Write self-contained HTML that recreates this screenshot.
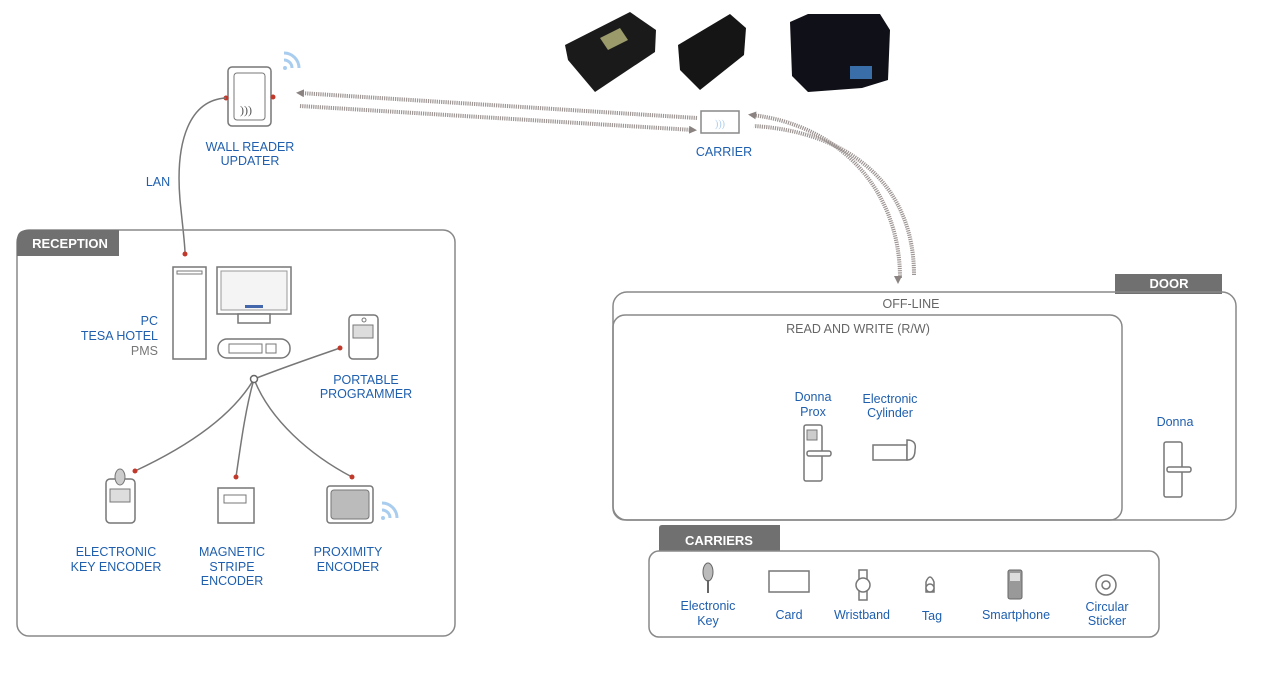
<!DOCTYPE html>
<html><head><meta charset="utf-8"><style>
html,body{margin:0;padding:0;background:#fff;width:1274px;height:690px;overflow:hidden}
svg{display:block}
.t{font-family:"Liberation Sans Narrow","Liberation Sans",sans-serif;font-size:12.5px;fill:#1f5fae;text-anchor:middle}
.g{fill:#666}
.w{fill:#fff;font-weight:bold;font-size:13px}
.ln{fill:none;stroke:#777;stroke-width:1.5}
.dev{fill:#fff;stroke:#777;stroke-width:1.5}
.dot{fill:#c0392b}
.arr{fill:none;stroke:#9d9593;stroke-width:4;stroke-dasharray:1.2 1}
</style></head><body>
<svg width="1274" height="690" viewBox="0 0 1274 690" xmlns="http://www.w3.org/2000/svg">
<defs>
<marker id="ah" markerWidth="8" markerHeight="8" refX="4" refY="4" orient="auto" markerUnits="userSpaceOnUse"><path d="M0,0 L8,4 L0,8 Z" fill="#8a8381"/></marker>
</defs>

<!-- product photos -->
<g>
<polygon points="565,45 630,12 656,30 655,52 595,92 568,60" fill="#1a1a1a"/>
<polygon points="600,38 620,28 628,40 608,50" fill="#9a9a6a"/>
<polygon points="678,45 730,14 746,28 744,55 700,90 680,70" fill="#151515"/>
<polygon points="790,22 808,14 880,14 890,30 888,80 862,88 808,92 792,76" fill="#101018"/>
<rect x="850" y="66" width="22" height="13" fill="#3a6ea8"/>
</g>

<!-- wall reader -->
<rect class="dev" x="228" y="67" width="43" height="59" rx="4"/>
<rect class="dev" x="234" y="73" width="31" height="47" rx="3" style="stroke-width:1"/>
<text x="246" y="114" style="font-size:12px;fill:#555" text-anchor="middle">)))</text>
<circle class="dot" cx="226" cy="98" r="2.5"/><circle class="dot" cx="273" cy="97" r="2.5"/>
<g fill="none" stroke="#a9cdee" stroke-width="3"><path d="M284,60 a8,8 0 0 1 8,8"/><path d="M284,53 a15,15 0 0 1 15,15"/></g>
<circle cx="285" cy="68" r="2" fill="#a9cdee"/>
<text class="t" x="250" y="151">WALL READER</text>
<text class="t" x="250" y="165">UPDATER</text>

<!-- LAN -->
<path class="ln" d="M226,98 C190,100 175,140 180,200 C183,230 185,245 185,253"/>
<circle class="dot" cx="185" cy="254" r="2.5"/>
<text class="t" x="158" y="186">LAN</text>

<!-- carrier arrows -->
<path class="arr" d="M697,118 L300,93" marker-end="url(#ah)"/>
<path class="arr" d="M300,106 L693,130" marker-end="url(#ah)"/>
<rect x="701" y="111" width="38" height="22" fill="#fff" stroke="#888" stroke-width="1.5"/>
<text x="720" y="127" style="font-size:10px;fill:#a9cdee" text-anchor="middle">)))</text>
<text class="t" x="724" y="156">CARRIER</text>
<path class="arr" d="M900,278 C900,190 840,125 752,115" marker-end="url(#ah)"/>
<path class="arr" d="M914,275 C914,185 850,132 754,126"/>
<path d="M894,276 L902,276 L898,284 Z" fill="#8a8381"/>

<!-- RECEPTION -->
<rect x="17" y="230" width="438" height="406" rx="12" fill="none" stroke="#888" stroke-width="1.5"/>
<path d="M17,256 L17,240 Q17,230 27,230 L119,230 L119,256 Z" fill="#707070"/>
<text class="t w" x="70" y="248">RECEPTION</text>

<rect class="dev" x="173" y="267" width="33" height="92"/>
<rect x="177" y="271" width="25" height="3" fill="none" stroke="#777"/>
<rect class="dev" x="217" y="267" width="74" height="47"/>
<rect x="221" y="271" width="66" height="39" fill="#f4f4f4" stroke="#999"/>
<rect x="245" y="305" width="18" height="3" fill="#4466aa"/>
<rect class="dev" x="238" y="314" width="32" height="9"/>
<rect class="dev" x="218" y="339" width="72" height="19" rx="9"/>
<rect x="229" y="344" width="33" height="9" fill="none" stroke="#777"/>
<rect x="266" y="344" width="10" height="9" fill="none" stroke="#777"/>
<text class="t" x="158" y="325" style="text-anchor:end">PC</text>
<text class="t" x="158" y="340" style="text-anchor:end">TESA HOTEL</text>
<text class="t" x="158" y="355" style="text-anchor:end;fill:#777">PMS</text>

<rect class="dev" x="349" y="315" width="29" height="44" rx="4"/>
<rect x="353" y="325" width="20" height="13" fill="#ddd" stroke="#777"/>
<circle cx="364" cy="320" r="2" fill="none" stroke="#777"/>
<text class="t" x="366" y="384">PORTABLE</text>
<text class="t" x="366" y="398">PROGRAMMER</text>

<path class="ln" d="M254,379 C290,365 320,355 340,348"/>
<path class="ln" d="M254,379 C230,420 180,450 135,471"/>
<path class="ln" d="M254,379 C245,410 240,450 236,477"/>
<path class="ln" d="M254,379 C270,420 310,455 352,477"/>
<circle cx="254" cy="379" r="3.5" fill="#fff" stroke="#666" stroke-width="1.5"/>
<circle class="dot" cx="340" cy="348" r="2.5"/><circle class="dot" cx="135" cy="471" r="2.5"/>
<circle class="dot" cx="236" cy="477" r="2.5"/><circle class="dot" cx="352" cy="477" r="2.5"/>

<rect class="dev" x="106" y="479" width="29" height="44" rx="4"/>
<ellipse cx="120" cy="477" rx="5" ry="8" fill="#ccc" stroke="#777"/>
<rect x="110" y="489" width="20" height="13" fill="#ddd" stroke="#777"/>
<rect class="dev" x="218" y="488" width="36" height="35"/>
<rect x="224" y="495" width="22" height="8" fill="none" stroke="#777"/>
<rect class="dev" x="327" y="486" width="46" height="37" rx="3"/>
<rect x="331" y="490" width="38" height="29" rx="3" fill="#bbb" stroke="#777"/>
<g fill="none" stroke="#a9cdee" stroke-width="3"><path d="M382,510 a8,8 0 0 1 8,8"/><path d="M382,503 a15,15 0 0 1 15,15"/></g>
<circle cx="383" cy="518" r="2" fill="#a9cdee"/>

<text class="t" x="116" y="556">ELECTRONIC</text>
<text class="t" x="116" y="571">KEY ENCODER</text>
<text class="t" x="232" y="556">MAGNETIC</text>
<text class="t" x="232" y="571">STRIPE</text>
<text class="t" x="232" y="585">ENCODER</text>
<text class="t" x="348" y="556">PROXIMITY</text>
<text class="t" x="348" y="571">ENCODER</text>

<!-- DOOR -->
<rect x="1115" y="274" width="107" height="20" fill="#707070"/>
<text class="t w" x="1169" y="288">DOOR</text>
<rect x="613" y="292" width="623" height="228" rx="14" fill="none" stroke="#888" stroke-width="1.5"/>
<text class="t g" x="911" y="308">OFF-LINE</text>
<rect x="613" y="315" width="509" height="205" rx="12" fill="none" stroke="#888" stroke-width="1.5"/>
<text class="t g" x="858" y="333">READ AND WRITE (R/W)</text>

<text class="t" x="813" y="401">Donna</text>
<text class="t" x="813" y="416">Prox</text>
<rect class="dev" x="804" y="425" width="18" height="56" rx="2"/>
<rect x="807" y="430" width="10" height="10" fill="#ccc" stroke="#777"/>
<rect class="dev" x="807" y="451" width="24" height="5" rx="2"/>
<text class="t" x="890" y="403">Electronic</text>
<text class="t" x="890" y="417">Cylinder</text>
<rect class="dev" x="873" y="445" width="34" height="15"/>
<path class="dev" d="M907,440 Q917,440 915,450 Q915,460 907,460 Z"/>

<text class="t" x="1175" y="426">Donna</text>
<rect class="dev" x="1164" y="442" width="18" height="55" rx="2"/>
<rect class="dev" x="1167" y="467" width="24" height="5" rx="2"/>

<!-- CARRIERS -->
<path d="M659,551 L659,528 Q659,525 662,525 L780,525 L780,551 Z" fill="#707070"/>
<text class="t w" x="719" y="545">CARRIERS</text>
<rect x="649" y="551" width="510" height="86" rx="10" fill="none" stroke="#888" stroke-width="1.5"/>

<ellipse cx="708" cy="572" rx="5" ry="9" fill="#bbb" stroke="#666"/>
<line x1="708" y1="580" x2="708" y2="593" stroke="#666" stroke-width="2"/>
<rect class="dev" x="769" y="571" width="40" height="21"/>
<rect class="dev" x="859" y="570" width="8" height="30"/>
<circle class="dev" cx="863" cy="585" r="7"/>
<path class="dev" d="M926,592 L926,582 Q930,572 934,582 L934,592 Z"/>
<circle class="dev" cx="930" cy="588" r="4"/>
<rect x="1008" y="570" width="14" height="29" rx="2" fill="#999" stroke="#666"/>
<rect x="1010" y="573" width="10" height="8" fill="#ddd"/>
<circle class="dev" cx="1106" cy="585" r="10"/>
<circle class="dev" cx="1106" cy="585" r="4"/>

<text class="t" x="708" y="610">Electronic</text>
<text class="t" x="708" y="625">Key</text>
<text class="t" x="789" y="619">Card</text>
<text class="t" x="862" y="619">Wristband</text>
<text class="t" x="932" y="620">Tag</text>
<text class="t" x="1016" y="619">Smartphone</text>
<text class="t" x="1107" y="611">Circular</text>
<text class="t" x="1107" y="625">Sticker</text>
</svg>
</body></html>
